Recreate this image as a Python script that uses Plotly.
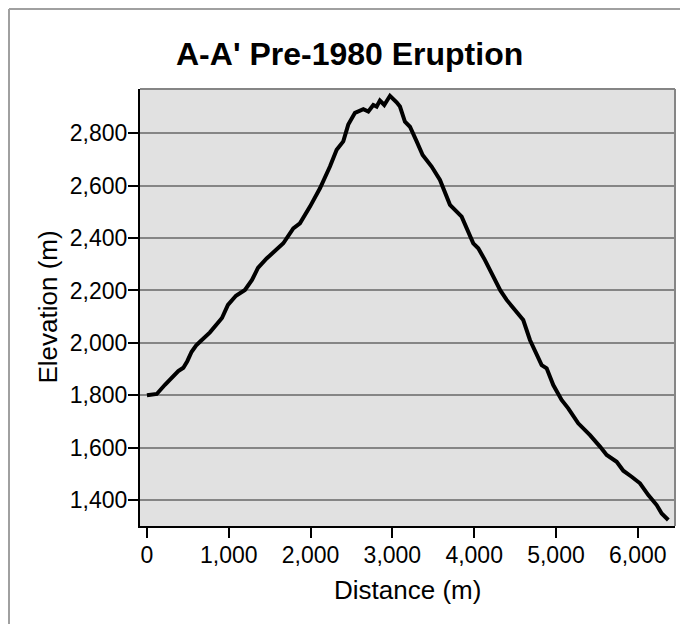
import plotly.graph_objects as go

# ---- data ----
distance_m = [0, 60, 120, 220, 300, 383, 445, 493, 546, 600, 648, 770, 917, 990, 1088,
              1198, 1284, 1357, 1463, 1560, 1667, 1789, 1870, 1993, 2115, 2237, 2319,
              2400, 2461, 2543, 2645, 2706, 2767, 2808, 2848, 2901, 2971, 3052, 3093,
              3154, 3215, 3297, 3370, 3480, 3582, 3704, 3847, 3989, 4050, 4132, 4250,
              4320, 4397, 4519, 4600, 4682, 4825, 4886, 4967, 5069, 5150, 5272, 5416,
              5538, 5620, 5742, 5823, 5925, 6027, 6129, 6231, 6292, 6373]
elevation_m = [1800, 1802, 1805, 1840, 1868, 1892, 1905, 1930, 1966, 1990, 2004, 2040,
               2095, 2145, 2180, 2202, 2240, 2286, 2322, 2350, 2380, 2437, 2456, 2520,
               2590, 2673, 2737, 2769, 2833, 2878, 2892, 2883, 2908, 2902, 2925, 2908,
               2943, 2918, 2902, 2844, 2825, 2769, 2717, 2673, 2622, 2527, 2482, 2380,
               2361, 2316, 2240, 2200, 2164, 2119, 2087, 2011, 1915, 1903, 1839, 1782,
               1750, 1693, 1648, 1604, 1572, 1546, 1512, 1489, 1464, 1419, 1381, 1349,
               1324]
x_ticks = [0, 1000, 2000, 3000, 4000, 5000, 6000]
y_ticks = [1400, 1600, 1800, 2000, 2200, 2400, 2600, 2800]

title_text = "A-A' Pre-1980 Eruption"
x_title = "Distance (m)"
y_title = "Elevation (m)"

# ---- layout geometry (figure pixels; page has an 8px body margin) ----
OFF = 8
W, H = 680, 616
L, R, T, B = 132, 13, 81, 98
PW = W - L - R
PH = H - T - B


def px_x(page_px):
    return (page_px - OFF - L) / PW


def px_y(page_py):
    return (H - B - (page_py - OFF)) / PH


FONT = "Liberation Sans, Arial, sans-serif"

fig = go.Figure()
fig.add_trace(go.Scatter(
    x=distance_m, y=elevation_m, mode="lines",
    line=dict(color="black", width=4),
    hoverinfo="skip", showlegend=False,
))

fig.update_layout(
    width=W, height=H,
    margin=dict(l=L, r=R, t=T, b=B, pad=0),
    paper_bgcolor="white",
    plot_bgcolor="#e1e1e1",
    font=dict(family=FONT, size=23, color="black"),
    showlegend=False,
)

fig.update_xaxes(
    range=[-85, 6455], tickvals=x_ticks, tickformat=",",
    ticks="outside", ticklen=10, tickwidth=2, tickcolor="black",
    ticklabelstandoff=-3,
    showline=True, linecolor="black", linewidth=2,
    showgrid=False, zeroline=False,
    tickfont=dict(family=FONT, size=23, color="black"),
)
fig.update_yaxes(
    range=[1301, 2969], tickvals=y_ticks, tickformat=",",
    ticks="outside", ticklen=10, tickwidth=2, tickcolor="black",
    ticklabelstandoff=-4,
    showline=True, linecolor="black", linewidth=2,
    showgrid=True, gridcolor="#858585", gridwidth=2, zeroline=False,
    tickfont=dict(family=FONT, size=23, color="black"),
)

# plot-area top / right border (grey)
fig.add_shape(type="line", xref="paper", yref="paper", x0=0, x1=1, y0=1, y1=1,
              line=dict(color="#858585", width=2))
fig.add_shape(type="line", xref="paper", yref="paper", x0=1, x1=1, y0=0, y1=1,
              line=dict(color="#858585", width=2))

# outer frame (left and top edges visible)
fig.add_shape(type="line", xref="paper", yref="paper",
              x0=px_x(OFF + 1), x1=px_x(OFF + 1), y0=px_y(700), y1=px_y(OFF + 1),
              line=dict(color="#a0a0a0", width=2))
fig.add_shape(type="line", xref="paper", yref="paper",
              x0=px_x(OFF + 1), x1=px_x(720), y0=px_y(OFF + 1), y1=px_y(OFF + 1),
              line=dict(color="#a0a0a0", width=2))

# title and axis titles
fig.add_annotation(text="<b>" + title_text + "</b>", xref="paper", yref="paper",
                   x=px_x(349), y=px_y(54), xanchor="center", yanchor="middle",
                   showarrow=False, font=dict(family=FONT, size=32, color="black"))
fig.add_annotation(text=x_title, xref="paper", yref="paper",
                   x=px_x(407.5), y=px_y(590), xanchor="center", yanchor="middle",
                   showarrow=False, font=dict(family=FONT, size=26, color="black"))
fig.add_annotation(text=y_title, xref="paper", yref="paper", textangle=-90,
                   x=px_x(47), y=px_y(307.5), xanchor="center", yanchor="middle",
                   showarrow=False, font=dict(family=FONT, size=26, color="black"))

fig.write_html("out.html")
